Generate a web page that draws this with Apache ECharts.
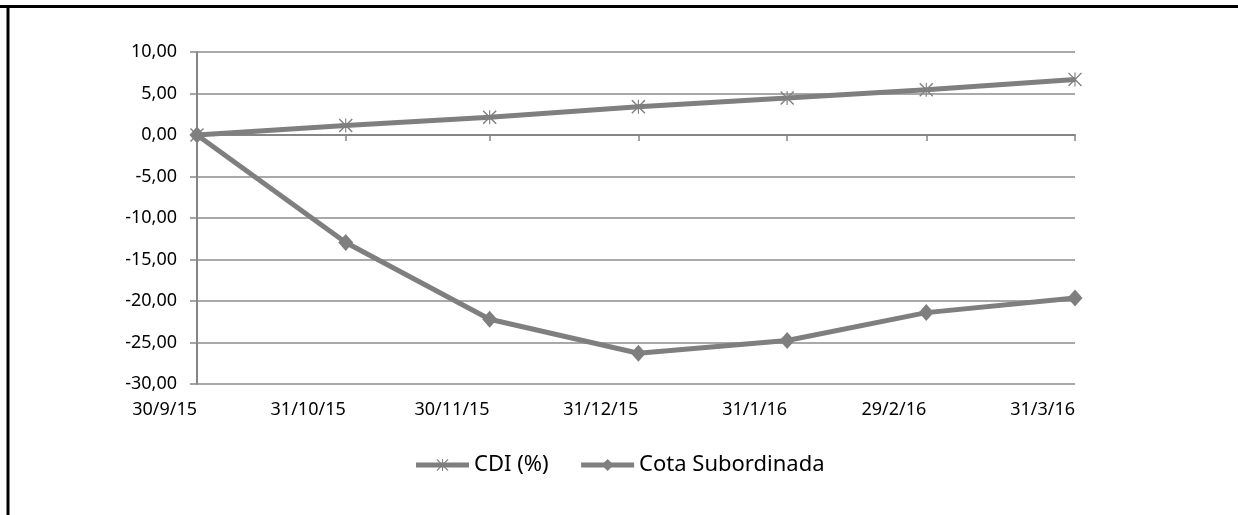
<!DOCTYPE html>
<html>
<head>
<meta charset="utf-8">
<script src="https://cdn.jsdelivr.net/npm/echarts@6/dist/echarts.min.js"></script>
<style>
  html, body { margin: 0; padding: 0; background: #fff; }
  #chart { width: 1238px; height: 515px; }
</style>
</head>
<body>
<div id="chart"></div>
<script>
// month-end dates (d/m/yy) and cumulative returns in %
const dates = ['2015-09-30', '2015-10-31', '2015-11-30', '2015-12-31', '2016-01-31', '2016-02-29', '2016-03-31']
const cdi = [0, 1.15, 2.15, 3.4, 4.45, 5.45, 6.7]
const cotaSub = [0, -12.95, -22.2, -26.3, -24.75, -21.4, -19.65]
const yTicks = [-30, -25, -20, -15, -10, -5, 0, 5, 10]

const gray = '#7f7f7f'
const font = 'Noto Sans'
const ts = dates.map(d => {
  const p = d.split('-')
  return Date.UTC(+p[0], +p[1] - 1, +p[2])
})
const fmtDate = v => {
  const d = new Date(v)
  return d.getUTCDate() + '/' + (d.getUTCMonth() + 1) + '/' + String(d.getUTCFullYear()).slice(2)
}
// asterisk marker: vertical bar plus an X
const starPath = 'path://M46 0L54 0L54 100L46 100Z M0 7L7 0L100 93L93 100Z M93 0L100 7L7 100L0 93Z'

const chart = echarts.init(document.getElementById('chart'))
chart.setOption({
  animation: false,
  textStyle: { fontFamily: font },
  grid: { left: 197, right: 163, top: 52, bottom: 131 },
  xAxis: [{
    type: 'value',
    min: ts[0],
    max: ts[ts.length - 1],
    axisLine: { show: false, onZero: false },
    axisTick: { show: false },
    splitLine: { show: false },
    axisLabel: {
      customValues: ts,
      formatter: fmtDate,
      align: 'right',
      margin: 17,
      color: '#000',
      fontSize: 18,
      fontFamily: font
    }
  }, {
    type: 'value',
    position: 'top',
    min: ts[0],
    max: ts[ts.length - 1],
    axisLine: { show: true, onZero: true, lineStyle: { color: '#868686', width: 2 } },
    axisTick: { show: true, customValues: ts, inside: true, length: 6, lineStyle: { color: '#868686', width: 1.5 } },
    axisLabel: { show: false },
    splitLine: { show: false }
  }],
  yAxis: {
    type: 'value',
    min: yTicks[0],
    max: yTicks[yTicks.length - 1],
    interval: 5,
    axisLine: { show: true, lineStyle: { color: '#868686', width: 2 } },
    axisTick: { show: true, length: 7, lineStyle: { color: '#868686', width: 1.5 } },
    splitLine: { show: true, lineStyle: { color: '#8c8c8c', width: 1.5 } },
    axisLabel: {
      margin: 20,
      color: '#000',
      fontSize: 18,
      fontFamily: font,
      formatter: v => v.toFixed(2).replace('.', ',')
    }
  },
  legend: {
    bottom: 34,
    left: 'center',
    itemWidth: 53,
    itemHeight: 15,
    itemGap: 30,
    lineStyle: { width: 5, color: gray },
    textStyle: { color: '#000', fontSize: 22, fontFamily: font },
    data: ['CDI (%)', 'Cota Subordinada']
  },
  series: [{
    name: 'CDI (%)',
    type: 'line',
    data: ts.map((t, i) => [t, cdi[i]]),
    symbol: starPath,
    symbolSize: 14,
    lineStyle: { color: gray, width: 5 },
    itemStyle: { color: gray }
  }, {
    name: 'Cota Subordinada',
    type: 'line',
    data: ts.map((t, i) => [t, cotaSub[i]]),
    symbol: 'diamond',
    symbolSize: [15, 17],
    lineStyle: { color: gray, width: 5 },
    itemStyle: { color: gray }
  }],
  graphic: [
    { type: 'line', shape: { x1: 0, y1: 6.5, x2: 1238, y2: 6.5 }, style: { stroke: '#000', lineWidth: 3 } },
    { type: 'line', shape: { x1: 8, y1: 5, x2: 8, y2: 515 }, style: { stroke: '#000', lineWidth: 3 } }
  ]
})
</script>
</body>
</html>
